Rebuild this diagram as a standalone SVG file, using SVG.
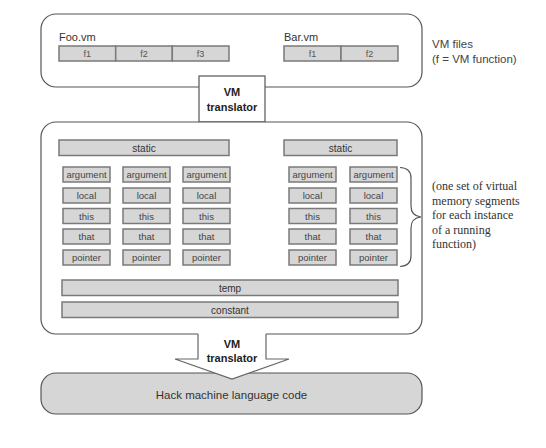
<svg xmlns="http://www.w3.org/2000/svg" width="546" height="448" viewBox="0 0 546 448">
<style>
.frame{fill:#fff;stroke:#555;stroke-width:1.2}
.hack{fill:#d6d6d6;stroke:#555;stroke-width:1.2}
.seg{fill:#d6d6d6;stroke:#7a7a7a;stroke-width:1.5}
.lbl{font-family:"Liberation Sans",Arial,sans-serif;fill:#333}
.s{font-size:9.5px;text-anchor:middle;fill:#444}
.f{font-size:9px;text-anchor:middle;fill:#555}
.m{font-size:10px;text-anchor:middle;fill:#333}
.name{font-size:11px;fill:#333}
.note{font-size:11.5px;fill:#444}
.tr{font-size:11px;font-weight:bold;text-anchor:middle;fill:#222}
.serif{font-family:"Liberation Serif","Times New Roman",serif;font-size:12px;fill:#333}
</style>
<rect width="546" height="448" fill="#fff"/>

<g id="vm-files">
  <rect class="frame" x="41" y="14" width="381" height="73" rx="15"/>
  <g id="foo-vm">
    <text class="lbl name" x="59" y="41">Foo.vm</text>
    <rect class="seg" x="59" y="46" width="56.7" height="15"/>
    <rect class="seg" x="115.7" y="46" width="56.6" height="15"/>
    <rect class="seg" x="172.3" y="46" width="56.7" height="15"/>
    <text class="lbl f" x="87.3" y="57">f1</text>
    <text class="lbl f" x="144" y="57">f2</text>
    <text class="lbl f" x="200.6" y="57">f3</text>
  </g>
  <g id="bar-vm">
    <text class="lbl name" x="284" y="41">Bar.vm</text>
    <rect class="seg" x="284" y="46" width="57" height="15"/>
    <rect class="seg" x="341" y="46" width="57" height="15"/>
    <text class="lbl f" x="312.5" y="57">f1</text>
    <text class="lbl f" x="369.5" y="57">f2</text>
  </g>
  <text class="lbl note" x="432" y="48">VM files</text>
  <text class="lbl note" x="432" y="63">(f = VM function)</text>
</g>

<g id="translator-top">
  <rect class="frame" x="199" y="76" width="66" height="46"/>
  <text class="lbl tr" x="232" y="96">VM</text>
  <text class="lbl tr" x="232" y="111">translator</text>
</g>

<g id="memory">
  <rect class="frame" x="41" y="122" width="381" height="212" rx="15"/>
  <g id="static-foo">
    <rect class="seg" x="59" y="140" width="170" height="15.5"/>
    <text class="lbl m" x="144" y="151.5">static</text>
  </g>
  <g id="static-bar">
    <rect class="seg" x="284" y="140" width="113" height="15.5"/>
    <text class="lbl m" x="340.5" y="151.5">static</text>
  </g>
  <g id="col-1">
    <rect class="seg" x="63" y="167" width="47" height="15"/><text class="lbl s" x="86.5" y="178">argument</text>
    <rect class="seg" x="63" y="188" width="47" height="15"/><text class="lbl s" x="86.5" y="199">local</text>
    <rect class="seg" x="63" y="208.5" width="47" height="15"/><text class="lbl s" x="86.5" y="219.5">this</text>
    <rect class="seg" x="63" y="229" width="47" height="15"/><text class="lbl s" x="86.5" y="240">that</text>
    <rect class="seg" x="63" y="250" width="47" height="15"/><text class="lbl s" x="86.5" y="261">pointer</text>
  </g>
  <g id="col-2">
    <rect class="seg" x="123" y="167" width="47" height="15"/><text class="lbl s" x="146.5" y="178">argument</text>
    <rect class="seg" x="123" y="188" width="47" height="15"/><text class="lbl s" x="146.5" y="199">local</text>
    <rect class="seg" x="123" y="208.5" width="47" height="15"/><text class="lbl s" x="146.5" y="219.5">this</text>
    <rect class="seg" x="123" y="229" width="47" height="15"/><text class="lbl s" x="146.5" y="240">that</text>
    <rect class="seg" x="123" y="250" width="47" height="15"/><text class="lbl s" x="146.5" y="261">pointer</text>
  </g>
  <g id="col-3">
    <rect class="seg" x="183" y="167" width="47" height="15"/><text class="lbl s" x="206.5" y="178">argument</text>
    <rect class="seg" x="183" y="188" width="47" height="15"/><text class="lbl s" x="206.5" y="199">local</text>
    <rect class="seg" x="183" y="208.5" width="47" height="15"/><text class="lbl s" x="206.5" y="219.5">this</text>
    <rect class="seg" x="183" y="229" width="47" height="15"/><text class="lbl s" x="206.5" y="240">that</text>
    <rect class="seg" x="183" y="250" width="47" height="15"/><text class="lbl s" x="206.5" y="261">pointer</text>
  </g>
  <g id="col-4">
    <rect class="seg" x="289" y="167" width="47" height="15"/><text class="lbl s" x="312.5" y="178">argument</text>
    <rect class="seg" x="289" y="188" width="47" height="15"/><text class="lbl s" x="312.5" y="199">local</text>
    <rect class="seg" x="289" y="208.5" width="47" height="15"/><text class="lbl s" x="312.5" y="219.5">this</text>
    <rect class="seg" x="289" y="229" width="47" height="15"/><text class="lbl s" x="312.5" y="240">that</text>
    <rect class="seg" x="289" y="250" width="47" height="15"/><text class="lbl s" x="312.5" y="261">pointer</text>
  </g>
  <g id="col-5">
    <rect class="seg" x="350" y="167" width="47" height="15"/><text class="lbl s" x="373.5" y="178">argument</text>
    <rect class="seg" x="350" y="188" width="47" height="15"/><text class="lbl s" x="373.5" y="199">local</text>
    <rect class="seg" x="350" y="208.5" width="47" height="15"/><text class="lbl s" x="373.5" y="219.5">this</text>
    <rect class="seg" x="350" y="229" width="47" height="15"/><text class="lbl s" x="373.5" y="240">that</text>
    <rect class="seg" x="350" y="250" width="47" height="15"/><text class="lbl s" x="373.5" y="261">pointer</text>
  </g>
  <g id="temp">
    <rect class="seg" x="62" y="280" width="336" height="15.5"/>
    <text class="lbl m" x="230" y="291.5">temp</text>
  </g>
  <g id="constant">
    <rect class="seg" x="62" y="302" width="336" height="15.5"/>
    <text class="lbl m" x="230" y="313.5">constant</text>
  </g>
</g>

<g id="hack">
  <rect class="hack" x="41" y="373" width="381" height="41" rx="15"/>
  <text class="lbl" x="231.5" y="399" font-size="11.5" text-anchor="middle" fill="#333">Hack machine language code</text>
</g>

<g id="connectors">
  <path d="M400 167.5 Q411 168 411 178 L411 206 Q411 216 421 217 Q411 218 411 228 L411 256 Q411 266 400 266.5" fill="none" stroke="#555" stroke-width="1.2"/>
  <g id="translator-bottom">
    <polygon points="198,333 266,333 266,359 289,359 232,379 175,359 198,359" fill="#fff"/>
    <polyline points="198,334 198,359 175,359 232,379 289,359 266,359 266,334" fill="none" stroke="#666" stroke-width="1.2"/>
    <text class="lbl tr" x="232" y="348">VM</text>
    <text class="lbl tr" x="232" y="362">translator</text>
  </g>
</g>

<g id="brace-note">
  <text class="serif" x="432" y="190">(one set of virtual</text>
  <text class="serif" x="432" y="204.5">memory segments</text>
  <text class="serif" x="432" y="219">for each instance</text>
  <text class="serif" x="432" y="233.5">of a running</text>
  <text class="serif" x="432" y="248">function)</text>
</g>
</svg>
